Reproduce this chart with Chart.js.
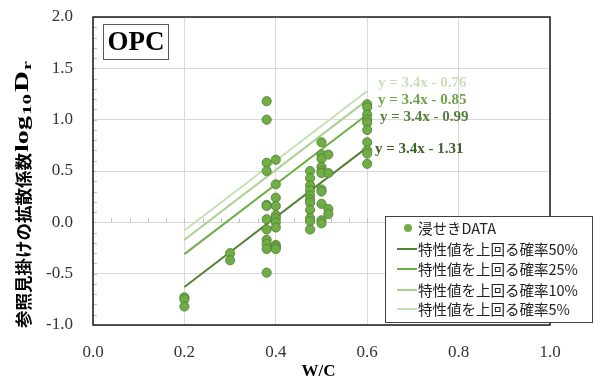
<!DOCTYPE html>
<html>
<head>
<meta charset="utf-8">
<script src="https://cdn.jsdelivr.net/npm/chart.js@4.4.1/dist/chart.umd.min.js"></script>
<style>
  html, body { margin: 0; padding: 0; background: #fff; }
  #wrap { width: 595px; height: 380px; }
</style>
</head>
<body>
<div id="wrap"><canvas id="opcChart" width="595" height="380"></canvas></div>
<script>
// 浸せきDATA (W/C, log10 Dr)
const wcValues = [
  0.2, 0.2, 0.2,
  0.3, 0.3,
  0.38, 0.38, 0.38, 0.38, 0.38, 0.38, 0.38, 0.38, 0.38, 0.38, 0.38, 0.38,
  0.40, 0.40, 0.40, 0.40, 0.40, 0.40, 0.40, 0.40, 0.40, 0.40, 0.40,
  0.475, 0.475, 0.475, 0.475, 0.475, 0.475, 0.475, 0.475, 0.475, 0.475, 0.475,
  0.50, 0.50, 0.50, 0.50, 0.50, 0.50, 0.50, 0.50, 0.50, 0.50, 0.50,
  0.515, 0.515, 0.515, 0.515,
  0.60, 0.60, 0.60, 0.60, 0.60, 0.60, 0.60, 0.60, 0.60, 0.60
];
const logDValues = [
  -0.73, -0.75, -0.82,
  -0.30, -0.37,
  1.18, 1.00, 0.58, 0.50, 0.17, 0.16, 0.03, -0.07, -0.17, -0.21, -0.26, -0.49,
  0.61, 0.37, 0.24, 0.16, 0.07, 0.04, 0.00, -0.05, -0.22, -0.24, -0.26,
  0.50, 0.43, 0.36, 0.31, 0.26, 0.22, 0.19, 0.12, 0.04, 0.01, -0.07,
  0.78, 0.66, 0.62, 0.54, 0.50, 0.48, 0.32, 0.30, 0.18, 0.02, -0.01,
  0.66, 0.48, 0.13, 0.08,
  1.15, 1.12, 1.05, 1.00, 0.97, 0.90, 0.78, 0.70, 0.67, 0.57
];

// 特性値ライン (端点)
const lineWC = [0.2, 0.6];
const line50 = [-0.63, 0.73];
const line25 = [-0.31, 1.05];
const line10 = [-0.17, 1.19];
const line05 = [-0.08, 1.28];

const lineNames = ['特性値を上回る確率50%', '特性値を上回る確率25%', '特性値を上回る確率10%', '特性値を上回る確率5%'];
const lineColors = ['#548235', '#70ad47', '#a9d18e', '#c5e0b4'];
const eqLabels = ['y = 3.4x - 1.31', 'y = 3.4x - 0.99', 'y = 3.4x - 0.85', 'y = 3.4x - 0.76'];

const serif = '"Liberation Serif", "Times New Roman", serif';
const sans = '"Noto Sans CJK JP", "Noto Sans", sans-serif';

function toPoints(xs, ys) {
  return xs.map((x, i) => ({ x: x, y: ys[i] }));
}

const lineSets = [line50, line25, line10, line05];

const datasets = [{
  type: 'scatter',
  label: '浸せきDATA',
  data: toPoints(wcValues, logDValues),
  backgroundColor: '#70ad47',
  borderColor: '#4e7d2f',
  borderWidth: 0.8,
  pointRadius: 4.6,
  pointHoverRadius: 4.6
}];
lineSets.forEach((ys, i) => {
  datasets.push({
    type: 'line',
    label: lineNames[i],
    data: toPoints(lineWC, ys),
    borderColor: lineColors[i],
    backgroundColor: lineColors[i],
    borderWidth: 2,
    pointRadius: 0,
    fill: false
  });
});

// 枠線、補助目盛り、凡例、注記
const decorPlugin = {
  id: 'decor',
  beforeDatasetsDraw(chart) {
    const ctx = chart.ctx;
    const a = chart.chartArea;
    const xs = chart.scales.x, ys = chart.scales.y;
    ctx.save();
    ctx.strokeStyle = '#bfbfbf';
    ctx.lineWidth = 1;
    // y minor ticks (inside left)
    for (let v = -1.0; v <= 2.0001; v += 0.1) {
      const py = Math.round(ys.getPixelForValue(v)) + 0.5;
      ctx.beginPath();
      ctx.moveTo(a.left, py);
      ctx.lineTo(a.left + 4, py);
      ctx.stroke();
    }
    // x minor ticks along y = 0
    const y0 = Math.round(ys.getPixelForValue(0)) + 0.5;
    for (let v = 0; v <= 1.0001; v += 0.04) {
      const px = Math.round(xs.getPixelForValue(v)) + 0.5;
      ctx.beginPath();
      ctx.moveTo(px, y0 - 4);
      ctx.lineTo(px, y0);
      ctx.stroke();
    }
    // plot border
    ctx.strokeStyle = '#1a1a1a';
    ctx.lineWidth = 1.5;
    ctx.strokeRect(a.left, a.top, a.right - a.left, a.bottom - a.top);
    ctx.restore();
  },
  afterDraw(chart) {
    const ctx = chart.ctx;
    const a = chart.chartArea;
    ctx.save();

    // OPC box
    ctx.fillStyle = '#fff';
    ctx.fillRect(103, 24, 66, 36);
    ctx.strokeStyle = '#595959';
    ctx.lineWidth = 1;
    ctx.strokeRect(103.5, 24.5, 65, 35);
    ctx.fillStyle = '#000';
    ctx.font = 'bold 27px ' + serif;
    ctx.textAlign = 'center';
    ctx.textBaseline = 'middle';
    ctx.fillText('OPC', 136, 43);

    // equation labels
    const eqPos = [[375, 149], [380, 117], [378, 100], [378, 83]];
    const eqColors = ['#3e5f2a', '#52803a', '#6fa34c', '#c9dfbb'];
    ctx.font = 'bold 15px ' + serif;
    ctx.textAlign = 'left';
    eqLabels.forEach((t, i) => {
      ctx.fillStyle = eqColors[i];
      ctx.fillText(t, eqPos[i][0], eqPos[i][1]);
    });

    // legend
    const lx = 385, ly = 216, lw = 207, lh = 106;
    ctx.fillStyle = '#fff';
    ctx.fillRect(lx, ly, lw, lh);
    ctx.strokeStyle = '#404040';
    ctx.lineWidth = 1;
    ctx.strokeRect(lx + 0.5, ly + 0.5, lw, lh);
    ctx.font = '14.5px ' + sans;
    ctx.textBaseline = 'middle';
    const rows = [228, 249, 269, 290, 309];
    chart.data.datasets.forEach((ds, i) => {
      const ry = rows[i];
      if (i === 0) {
        ctx.beginPath();
        ctx.arc(408, ry, 4, 0, Math.PI * 2);
        ctx.fillStyle = ds.backgroundColor;
        ctx.fill();
      } else {
        ctx.beginPath();
        ctx.moveTo(397, ry);
        ctx.lineTo(417, ry);
        ctx.strokeStyle = ds.borderColor;
        ctx.lineWidth = 2;
        ctx.stroke();
      }
      ctx.fillStyle = '#222';
      ctx.fillText(ds.label, 418, ry);
    });

    // x axis title
    ctx.font = 'bold 17px ' + serif;
    ctx.textAlign = 'center';
    ctx.fillStyle = '#000';
    ctx.fillText('W/C', (a.left + a.right) / 2 - 3, 372);

    // y axis title (rotated, with subscripts; each part stretched to its span)
    ctx.translate(23, 328);
    ctx.rotate(-Math.PI / 2);
    ctx.textAlign = 'left';
    ctx.textBaseline = 'middle';
    const parts = [
      { t: '参照見掛けの拡散係数', f: 'bold 17.5px ' + sans, dy: 0, from: 0, w: 175 },
      { t: 'log', f: 'bold 19px ' + serif, dy: 0, from: 176, w: 36 },
      { t: '10', f: 'bold 13px ' + serif, dy: 5, from: 213, w: 21 },
      { t: 'D', f: 'bold 19px ' + serif, dy: 0, from: 236, w: 21 },
      { t: 'r', f: 'bold 13px ' + serif, dy: 5, from: 258, w: 9 }
    ];
    parts.forEach(p => {
      ctx.font = p.f;
      const mw = ctx.measureText(p.t).width;
      ctx.save();
      ctx.translate(p.from, p.dy);
      ctx.scale(p.w / mw, 1);
      ctx.fillText(p.t, 0, 0);
      ctx.restore();
    });
    ctx.restore();
  }
};

new Chart(document.getElementById('opcChart'), {
  data: { datasets: datasets },
  options: {
    responsive: false,
    animation: false,
    layout: { padding: { top: 17, right: 45, left: 0, bottom: 0 } },
    plugins: {
      legend: { display: false },
      tooltip: { enabled: false }
    },
    scales: {
      x: {
        type: 'linear',
        min: 0,
        max: 1.0,
        afterFit: s => { s.height = 55; s.paddingLeft = 0; s.paddingRight = 0; },
        ticks: {
          stepSize: 0.2,
          padding: 17,
          color: '#333',
          font: { family: serif, size: 17 },
          callback: v => v.toFixed(1)
        },
        grid: { color: '#d9d9d9', lineWidth: 1, drawTicks: false },
        border: { display: false }
      },
      y: {
        type: 'linear',
        min: -1.0,
        max: 2.0,
        afterFit: s => { s.width = 93; s.paddingTop = 0; s.paddingBottom = 0; },
        ticks: {
          stepSize: 0.5,
          padding: 20,
          color: '#333',
          font: { family: serif, size: 17 },
          callback: v => v.toFixed(1)
        },
        grid: { color: '#d9d9d9', lineWidth: 1, drawTicks: false },
        border: { display: false }
      }
    }
  },
  plugins: [decorPlugin]
});
</script>
</body>
</html>
